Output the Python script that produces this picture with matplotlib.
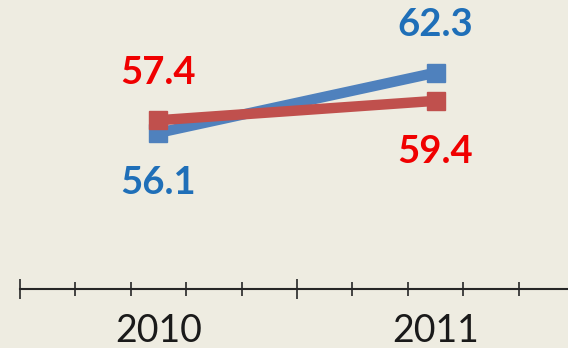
import matplotlib
matplotlib.use('Agg')
import matplotlib.pyplot as plt
import numpy as np
from matplotlib.ticker import FixedLocator

years = ['2010', '2011']
blue_vals = [56.1, 62.3]
red_vals = [57.4, 59.4]

BG = '#EEECE1'
BLUE_LINE = '#4F81BD'
RED_LINE = '#C0504D'
BLUE_TEXT = '#1F6FB8'
RED_TEXT = '#F00000'

plt.rcParams['font.family'] = ['Lato', 'DejaVu Sans']

fig = plt.figure(figsize=(5.68, 3.48), dpi=100, facecolor=BG)
ax = fig.add_axes([0.0, 0.1695, 1.0, 0.8362])
ax.set_facecolor(BG)

x = np.arange(len(years))
ax.plot(x, blue_vals, color=BLUE_LINE, lw=7.5, marker='s', ms=13,
        solid_joinstyle='miter', zorder=3)
ax.plot(x, red_vals, color=RED_LINE, lw=7.5, marker='s', ms=13,
        solid_joinstyle='miter', zorder=4)

# value labels: above/below depending on which series is higher
label_style = dict(fontsize=27.5, fontweight='bold', ha='center', va='center',
                   textcoords='offset points')
for i in range(len(years)):
    b, r = blue_vals[i], red_vals[i]
    b_off = 34 if b > r else -36
    r_off = 34 if r > b else -37
    ax.annotate(f'{b:.1f}', (x[i], b), xytext=(0, b_off), color=BLUE_TEXT,
                **label_style)
    ax.annotate(f'{r:.1f}', (x[i], r), xytext=(0, r_off), color=RED_TEXT,
                **label_style)

ax.set_xlim(-0.572, 1.478)
ax.set_ylim(40, 70)

for side in ['top', 'right', 'left']:
    ax.spines[side].set_visible(False)
ax.spines['bottom'].set_color('#262626')
ax.spines['bottom'].set_linewidth(1.5)
ax.spines['bottom'].set_bounds(-0.5, 1.5)

ax.set_yticks([])
ax.xaxis.set_major_locator(FixedLocator([-0.5, 0.5, 1.5]))
ax.xaxis.set_minor_locator(FixedLocator([-0.3, -0.1, 0.1, 0.3, 0.7, 0.9, 1.1, 1.3]))
ax.set_xticklabels([])
ax.tick_params(axis='x', which='major', direction='inout', length=15,
               width=1.2, color='#262626')
ax.tick_params(axis='x', which='minor', direction='inout', length=9.5,
               width=1.2, color='#262626')

for i, yr in enumerate(years):
    ax.annotate(yr, (x[i], 0), xycoords=ax.get_xaxis_transform(),
                xytext=(0, -30), textcoords='offset points',
                ha='center', va='center', fontsize=27, color='#1a1a1a')

fig.savefig('out.png', dpi=100, facecolor=BG)
